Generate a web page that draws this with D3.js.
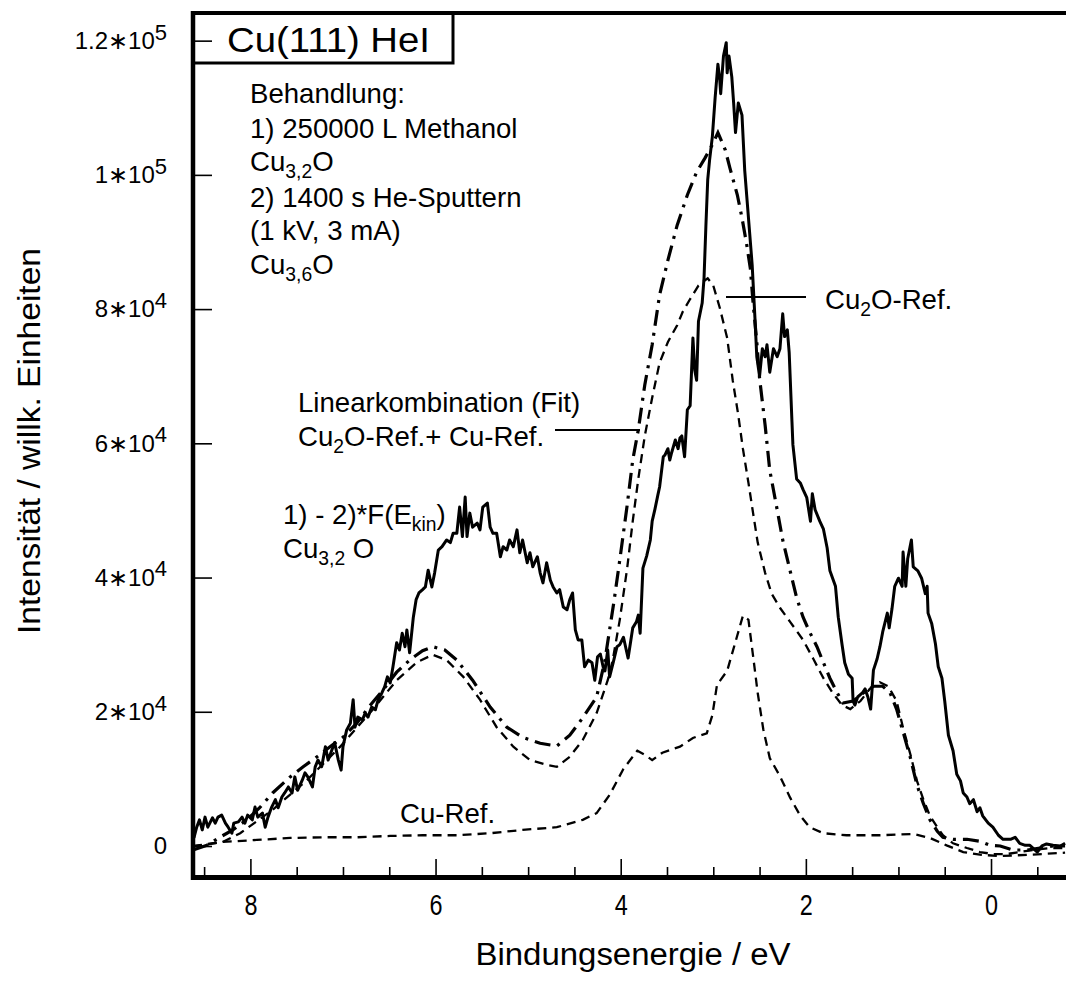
<!DOCTYPE html>
<html>
<head>
<meta charset="utf-8">
<script src="https://cdn.jsdelivr.net/npm/d3@7"></script>
<style>
  body { margin: 0; background: #fff; }
  svg { display: block; }
  text { font-family: "Liberation Sans", Arial, Helvetica, sans-serif; fill: #000; }
</style>
</head>
<body>
<svg id="chart" width="1066" height="981"></svg>
<script>
// He I photoemission spectra of Cu(111): binding energy (eV) vs. intensity (arb. units)

// Difference spectrum 1) - 2)*F(E_kin)
const diffSpectrum = [
  [8.61,1200],[8.58,2800],[8.55,3900],[8.52,2400],[8.49,4300],[8.46,2800],[8.41,4200],[8.38,3400],
  [8.35,4300],[8.31,4600],[8.27,3400],[8.24,2800],[8.20,1900],[8.18,3400],[8.13,3600],[8.09,4300],
  [8.06,3400],[8.03,4600],[7.98,3900],[7.95,5800],[7.92,4300],[7.87,4900],[7.84,2800],[7.81,4300],
  [7.77,5800],[7.73,6900],[7.70,5700],[7.66,7300],[7.63,7900],[7.59,8800],[7.55,7900],[7.52,10300],
  [7.49,8300],[7.44,9800],[7.41,10900],[7.38,10300],[7.33,8800],[7.30,11800],[7.27,12800],[7.23,11800],
  [7.19,14800],[7.16,12800],[7.12,14300],[7.09,15400],[7.05,12800],[7.02,11300],[7.00,14800],[6.96,17300],
  [6.92,18300],[6.89,21800],[6.87,17700],[6.84,19200],[6.79,18800],[6.76,19800],[6.73,19200],[6.69,20700],
  [6.65,20300],[6.62,21800],[6.58,22800],[6.55,23700],[6.52,25200],[6.49,24300],[6.46,26700],[6.42,30300],
  [6.39,29200],[6.36,31700],[6.33,29700],[6.31,32200],[6.28,28800],[6.24,34100],[6.21,36700],[6.18,37700],
  [6.14,38200],[6.11,38600],[6.08,41100],[6.04,38600],[6.01,40700],[5.97,44100],[5.93,44600],[5.88,45600],
  [5.84,45200],[5.81,46600],[5.77,46600],[5.74,50500],[5.71,46100],[5.68,52000],[5.66,46100],[5.63,49600],
  [5.60,47500],[5.55,48100],[5.52,47100],[5.49,50500],[5.44,51100],[5.41,47500],[5.38,46600],[5.34,46600],
  [5.30,43100],[5.27,44600],[5.23,44100],[5.20,45600],[5.16,44600],[5.12,47100],[5.09,43700],[5.06,45600],
  [5.01,42200],[4.98,43700],[4.95,41600],[4.90,43100],[4.87,40700],[4.84,39200],[4.80,42200],[4.76,39600],
  [4.73,38600],[4.69,37700],[4.66,38200],[4.62,35600],[4.58,35200],[4.55,36700],[4.52,37700],[4.49,32200],
  [4.46,30700],[4.42,30700],[4.39,26700],[4.35,27700],[4.31,27300],[4.28,24700],[4.25,28200],[4.22,28600],
  [4.19,26700],[4.17,26100],[4.14,29200],[4.12,25200],[4.08,27400],[4.04,29700],[4.01,30000],[3.97,31100],
  [3.94,29200],[3.92,28000],[3.89,30700],[3.87,32500],[3.83,33400],[3.81,34400],[3.79,31700],[3.76,41400],
  [3.72,43200],[3.68,45600],[3.66,48400],[3.63,50200],[3.60,52200],[3.58,53500],[3.54,58000],[3.52,58300],
  [3.49,59200],[3.47,57500],[3.45,58600],[3.41,60500],[3.38,59200],[3.36,60800],[3.34,61100],[3.31,58000],
  [3.28,65000],[3.25,65600],[3.22,75700],[3.20,70900],[3.18,69400],[3.16,78200],[3.12,80900],[3.10,84600],
  [3.08,92300],[3.06,99300],[3.04,102200],[3.01,105700],[2.98,111500],[2.95,116500],[2.93,114200],[2.92,112100],
  [2.89,117700],[2.86,119700],[2.85,115200],[2.83,117700],[2.80,114600],[2.78,110700],[2.76,106300],[2.73,110700],
  [2.69,108900],[2.66,100600],[2.62,93600],[2.58,86600],[2.55,78700],[2.53,72900],[2.50,70000],[2.47,74100],
  [2.44,72900],[2.42,74700],[2.39,70600],[2.35,74100],[2.31,72900],[2.28,74100],[2.25,79300],[2.23,75900],
  [2.20,76900],[2.18,73500],[2.15,63200],[2.14,59800],[2.10,54700],[2.06,54100],[2.03,53100],[1.99,51900],
  [1.95,48400],[1.93,52500],[1.90,50100],[1.85,48400],[1.81,47200],[1.77,44400],[1.74,41000],[1.68,38700],
  [1.65,34100],[1.61,30100],[1.58,27300],[1.54,25600],[1.50,25000],[1.49,21600],[1.47,21000],[1.44,22200],
  [1.39,22800],[1.36,23400],[1.33,22200],[1.30,20400],[1.27,26200],[1.23,27900],[1.20,29700],[1.17,31900],
  [1.12,34700],[1.10,32500],[1.07,35300],[1.04,38700],[1.00,39900],[0.96,38700],[0.95,43800],[0.92,38700],
  [0.90,42800],[0.86,45600],[0.84,41600],[0.79,41000],[0.75,39900],[0.71,37600],[0.69,38700],[0.68,34700],
  [0.64,33100],[0.60,30100],[0.57,26700],[0.53,25000],[0.50,21600],[0.46,16500],[0.41,14200],[0.37,10700],
  [0.33,9700],[0.30,7900],[0.26,7300],[0.23,6300],[0.19,6900],[0.15,5100],[0.12,5700],[0.09,4500],
  [0.03,3400],[-0.02,2800],[-0.08,1600],[-0.13,1000],[-0.21,1000],[-0.26,1300],[-0.31,400],[-0.37,100],
  [-0.42,100],[-0.50,-900],[-0.55,0],[-0.60,300],[-0.67,100],[-0.75,0],[-0.80,400]
];

// Linear combination fit: Cu2O reference + Cu reference
const fitSpectrum = [
  [8.62,-600],[8.47,100],[8.33,1300],[8.19,2400],[8.04,3900],[7.90,5700],[7.76,7900],[7.57,10300],
  [7.43,11800],[7.28,13300],[7.14,14800],[7.00,16200],[6.85,18300],[6.71,20900],[6.57,23200],[6.42,25900],
  [6.28,27700],[6.14,29100],[6.03,29700],[5.90,29200],[5.77,27700],[5.60,24700],[5.41,20700],[5.23,17700],
  [5.06,16200],[4.87,15300],[4.69,14900],[4.55,16500],[4.41,19100],[4.26,22200],[4.17,27700],[4.07,36700],
  [4.01,42600],[3.93,50800],[3.87,57500],[3.81,62000],[3.74,68700],[3.66,74700],[3.58,82100],[3.49,87300],
  [3.39,92500],[3.28,97000],[3.18,100400],[3.09,102500],[3.01,104500],[2.95,106300],[2.87,103700],[2.82,101000],
  [2.74,97000],[2.69,93600],[2.64,89700],[2.60,86100],[2.57,80900],[2.53,75100],[2.50,69700],[2.44,62700],
  [2.39,56000],[2.31,50100],[2.25,45600],[2.17,41000],[2.10,37000],[2.03,34100],[1.96,31900],[1.88,29700],
  [1.81,27300],[1.74,25000],[1.66,22800],[1.60,21300],[1.49,21600],[1.38,22800],[1.27,23800],[1.17,23800],
  [1.09,22800],[1.02,20400],[0.95,17000],[0.87,13100],[0.80,9100],[0.73,6300],[0.66,3900],[0.58,2200],
  [0.52,1300],[0.41,1000],[0.26,1000],[0.12,700],[0.01,100],[-0.10,0],[-0.24,-600],[-0.39,-600],
  [-0.53,-300],[-0.67,0],[-0.80,0]
];

// Cu2O reference spectrum
const cu2oRef = [
  [8.62,-100],[8.30,600],[8.11,1900],[7.76,5400],[7.39,9800],[7.03,14800],[6.68,20300],[6.42,24700],
  [6.20,27400],[6.03,28500],[5.88,27700],[5.70,25200],[5.52,21800],[5.34,17700],[5.16,14800],[4.98,12800],
  [4.80,12100],[4.69,11800],[4.55,13300],[4.41,15800],[4.26,19800],[4.14,24700],[4.09,27400],[4.01,33700],
  [3.93,41400],[3.87,48400],[3.81,54700],[3.74,61100],[3.66,66800],[3.58,72000],[3.49,75100],[3.39,77600],
  [3.33,79600],[3.25,81500],[3.16,83500],[3.09,84300],[3.06,84600],[3.00,83500],[2.93,80200],[2.85,75700],
  [2.79,69400],[2.73,64200],[2.68,59200],[2.62,54100],[2.57,49600],[2.52,45200],[2.44,40700],[2.37,37600],
  [2.28,35500],[2.17,33400],[2.03,30700],[1.92,27900],[1.81,25000],[1.71,22800],[1.61,21000],[1.52,20400],
  [1.41,21600],[1.31,23400],[1.20,24400],[1.11,23800],[1.02,21600],[0.95,17600],[0.87,13600],[0.80,9700],
  [0.73,6900],[0.66,4500],[0.58,2800],[0.52,1600],[0.41,400],[0.26,-300],[0.12,-900],[-0.02,-1200],
  [-0.17,-1200],[-0.31,-900],[-0.45,-600],[-0.64,-300],[-0.80,-300]
];

// Cu reference spectrum
const cuRef = [
  [8.62,0],[8.30,600],[7.93,900],[7.57,1200],[7.22,1300],[6.85,1300],[6.49,1500],[6.14,1600],
  [5.77,1600],[5.41,1900],[5.06,2400],[4.69,2800],[4.41,3900],[4.26,4900],[4.12,7600],[3.97,11500],
  [3.82,14200],[3.74,13600],[3.66,12800],[3.55,13900],[3.36,14800],[3.22,16100],[3.07,16800],[3.01,19500],
  [2.96,24000],[2.85,26100],[2.74,31400],[2.68,34300],[2.62,33700],[2.57,28300],[2.52,22800],[2.46,17400],
  [2.39,13100],[2.28,10400],[2.17,7200],[2.06,4500],[1.96,2800],[1.81,1900],[1.56,1600],[1.20,1600],
  [0.84,1800],[0.66,1200],[0.48,100],[0.30,-900],[0.12,-1300],[-0.10,-1500],[-0.42,-1300],[-0.80,-1000]
];

const xMajorTicks = [8, 6, 4, 2, 0];
const xMinorTicks = [8.5, 7.5, 7, 6.5, 5.5, 5, 4.5, 3.5, 3, 2.5, 1.5, 1, 0.5, -0.5];
const yTicks = [0, 20000, 40000, 60000, 80000, 100000, 120000];

const svg = d3.select("#chart");

const x = d3.scaleLinear().domain([8.62, -0.81]).range([193, 1066]);
const y = d3.scaleLinear().domain([-4620, 124120]).range([877, 13]);

const line = d3.line().x(d => x(d[0])).y(d => y(d[1]));

// spectra
svg.append("path").datum(cuRef).attr("d", line)
  .attr("fill", "none").attr("stroke", "#000").attr("stroke-width", 2.3)
  .attr("stroke-dasharray", "9,6");
svg.append("path").datum(cu2oRef).attr("d", line)
  .attr("fill", "none").attr("stroke", "#000").attr("stroke-width", 2.3)
  .attr("stroke-dasharray", "9,6");
svg.append("path").datum(fitSpectrum).attr("d", line)
  .attr("fill", "none").attr("stroke", "#000").attr("stroke-width", 3.2)
  .attr("stroke-dasharray", "16,7,3,7");
svg.append("path").datum(diffSpectrum).attr("d", line)
  .attr("fill", "none").attr("stroke", "#000").attr("stroke-width", 3)
  .attr("stroke-linejoin", "round");

// title box
svg.append("rect").attr("x", 193).attr("y", 13).attr("width", 260).attr("height", 50)
  .attr("fill", "#fff").attr("stroke", "#000").attr("stroke-width", 3);
svg.append("text").attr("x", 227).attr("y", 52).attr("font-size", 35)
  .attr("textLength", 203).attr("lengthAdjust", "spacingAndGlyphs").text("Cu(111) HeI");

// axes
const xMinor = svg.append("g").attr("transform", "translate(0,877)")
  .call(d3.axisBottom(x).tickValues(xMinorTicks).tickSize(-10).tickFormat(""));
const xMajor = svg.append("g").attr("transform", "translate(0,877)")
  .call(d3.axisBottom(x).tickValues(xMajorTicks).tickSize(-18).tickPadding(17).tickFormat(d3.format("d")));
const yAxis = svg.append("g").attr("transform", "translate(193,0)")
  .call(d3.axisLeft(y).tickValues(yTicks).tickSize(-19).tickPadding(26).tickFormat(""));

[xMinor, xMajor, yAxis].forEach(g => {
  g.select(".domain").remove();
  g.selectAll(".tick line").attr("stroke", "#000").attr("stroke-width", 1.6);
});
xMajor.selectAll(".tick text").attr("font-size", 30).attr("fill", "#000")
  .attr("transform", "scale(0.78,1)")
  .style("font-family", "'Liberation Sans', Arial, sans-serif");

yAxis.selectAll(".tick text").each(function(d) {
  const t = d3.select(this).attr("font-size", 24).attr("fill", "#000")
    .style("font-family", "'Liberation Sans', Arial, sans-serif");
  if (d === 0) { t.append("tspan").text("0"); return; }
  const e = Math.floor(Math.log10(d));
  const m = +(d / Math.pow(10, e)).toFixed(2);
  t.append("tspan").text(m + "\u221710");
  t.append("tspan").attr("dy", "-0.42em").attr("font-size", 22).text(e);
});

// frame lines
svg.append("line").attr("x1", 193).attr("x2", 1066).attr("y1", 13).attr("y2", 13)
  .attr("stroke", "#000").attr("stroke-width", 4);
svg.append("line").attr("x1", 193).attr("x2", 193).attr("y1", 11).attr("y2", 880)
  .attr("stroke", "#000").attr("stroke-width", 4.5);
svg.append("line").attr("x1", 191).attr("x2", 1066).attr("y1", 877.5).attr("y2", 877.5)
  .attr("stroke", "#000").attr("stroke-width", 5);

// axis titles
svg.append("text").attr("x", 633).attr("y", 965).attr("text-anchor", "middle")
  .attr("font-size", 31).attr("textLength", 315).attr("lengthAdjust", "spacingAndGlyphs")
  .text("Bindungsenergie / eV");
svg.append("text").attr("transform", "translate(40,441) rotate(-90)").attr("text-anchor", "middle")
  .attr("font-size", 31).attr("textLength", 386).attr("lengthAdjust", "spacingAndGlyphs")
  .text("Intensität / willk. Einheiten");

// annotation helper: parts are [text, kind]; "sub" lowers, "back" returns to the baseline
function label(xp, yp, parts, size) {
  const t = svg.append("text").attr("x", xp).attr("y", yp).attr("font-size", size);
  parts.forEach(p => {
    const s = t.append("tspan").text(p[0]);
    if (p[1] === "sub") s.attr("font-size", size * 0.7).attr("dy", size * 0.24);
    else if (p[1] === "back") s.attr("dy", -size * 0.24);
  });
  return t;
}

const fs = 27.6;
label(250, 103, [["Behandlung:"]], fs);
label(250, 138, [["1) 250000 L Methanol"]], fs);
label(250, 171, [["Cu"], ["3,2", "sub"], ["O", "back"]], fs);
label(250, 207, [["2) 1400 s He-Sputtern"]], fs);
label(250, 240, [["(1 kV, 3 mA)"]], fs);
label(250, 274, [["Cu"], ["3,6", "sub"], ["O", "back"]], fs);

label(825, 309, [["Cu"], ["2", "sub"], ["O-Ref.", "back"]], fs);
svg.append("line").attr("x1", 726).attr("x2", 806).attr("y1", 297).attr("y2", 297)
  .attr("stroke", "#000").attr("stroke-width", 2);

label(298, 412, [["Linearkombination (Fit)"]], fs);
label(298, 446, [["Cu"], ["2", "sub"], ["O-Ref.+ Cu-Ref.", "back"]], fs);
svg.append("line").attr("x1", 555).attr("x2", 640).attr("y1", 430).attr("y2", 430)
  .attr("stroke", "#000").attr("stroke-width", 2);

label(283, 524, [["1) - 2)*F(E"], ["kin", "sub"], [")", "back"]], fs);
label(283, 558, [["Cu"], ["3,2", "sub"], [" O", "back"]], fs);

label(400, 823, [["Cu-Ref."]], fs);
</script>
</body>
</html>
